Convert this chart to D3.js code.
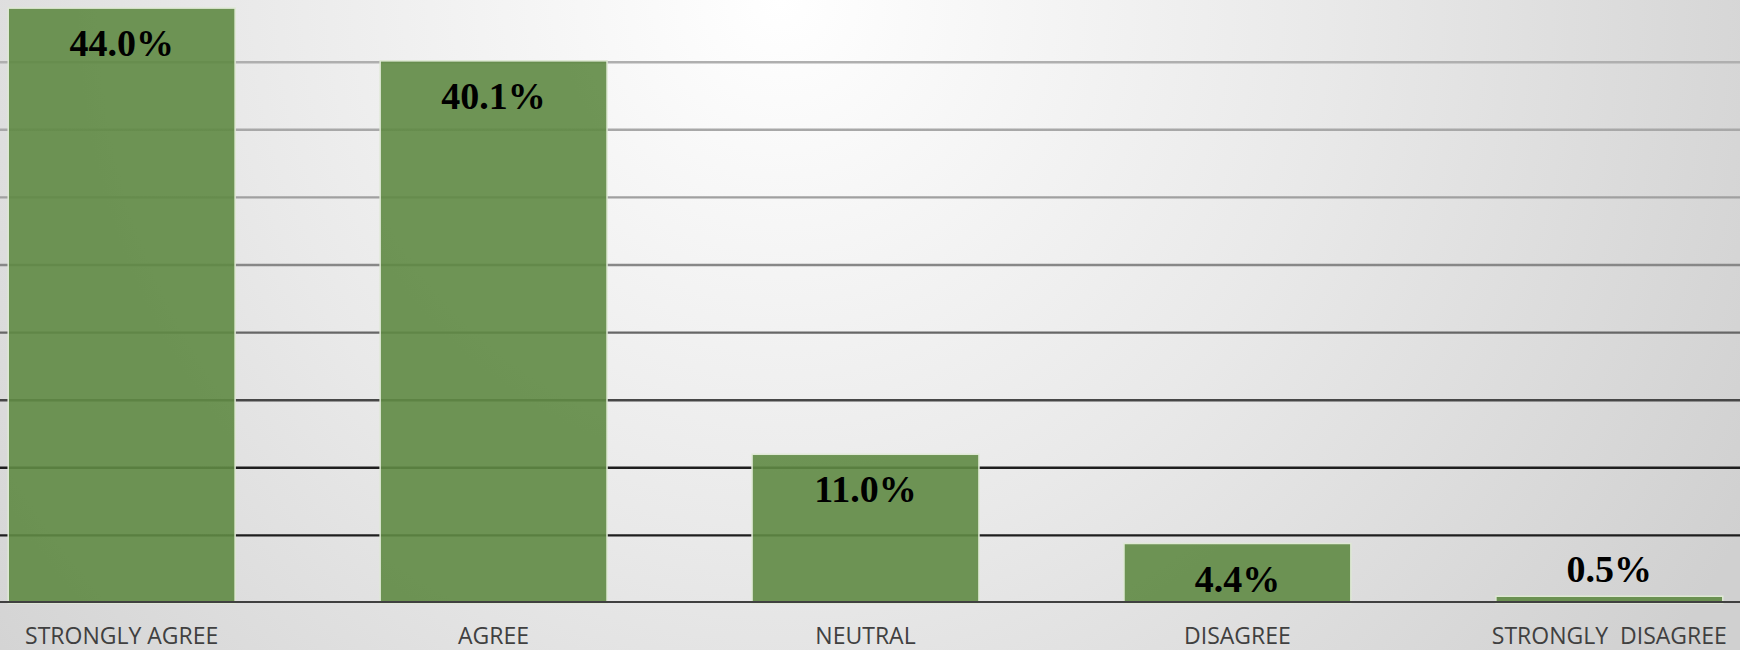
<!DOCTYPE html>
<html>
<head>
<meta charset="utf-8">
<script src="https://cdn.jsdelivr.net/npm/d3@7"></script>
<style>
  html, body { margin: 0; padding: 0; background: #e6e6e6; }
  svg { display: block; }
</style>
</head>
<body>
<svg id="chart" width="1740" height="650"></svg>
<script>
// Survey response shares (percent)
const categories = ["STRONGLY AGREE", "AGREE", "NEUTRAL", "DISAGREE", "STRONGLY  DISAGREE"];
const values = [44.0, 40.1, 11.0, 4.4, 0.5];
const gridTicks = [5, 10, 15, 20, 25, 30, 35, 40];

const width = 1740, height = 650;
const svg = d3.select("#chart");
const defs = svg.append("defs");

// Soft radial background, lightest near the top centre
const bg = defs.append("radialGradient")
  .attr("id", "bgGrad")
  .attr("gradientUnits", "userSpaceOnUse")
  .attr("cx", 780).attr("cy", 0).attr("r", 1100);
bg.append("stop").attr("offset", 0).attr("stop-color", "#ffffff");
bg.append("stop").attr("offset", 0.5).attr("stop-color", "#e9e9e9");
bg.append("stop").attr("offset", 1).attr("stop-color", "#d0d0d0");

// Gridlines darken towards the baseline
const gg = defs.append("linearGradient")
  .attr("id", "gridGrad")
  .attr("gradientUnits", "userSpaceOnUse")
  .attr("x1", 0).attr("y1", 0).attr("x2", 0).attr("y2", 600);
[[0, "#b6b6b6"], [0.33, "#a0a0a0"], [0.44, "#888888"], [0.55, "#686868"], [0.67, "#464646"], [0.78, "#1e1e1e"], [1, "#1e1e1e"]]
  .forEach(([o, c]) => gg.append("stop").attr("offset", o).attr("stop-color", c));

svg.append("rect").attr("width", width).attr("height", height).attr("fill", "url(#bgGrad)");

const x = d3.scaleBand()
  .domain(categories)
  .range([-64.3, 1795.3])
  .paddingInner(0.39)
  .paddingOuter(0.195);

const y = d3.scaleLinear()
  .domain([0, 45])
  .range([603, -5.4]);

// Horizontal gridlines
svg.append("g").selectAll("line")
  .data(gridTicks)
  .join("line")
  .attr("x1", 0).attr("x2", width)
  .attr("y1", d => y(d)).attr("y2", d => y(d))
  .attr("stroke", "url(#gridGrad)")
  .attr("stroke-width", 2.4);

// Bars
svg.append("g").selectAll("rect")
  .data(values)
  .join("rect")
  .attr("x", (d, i) => x(categories[i]))
  .attr("width", x.bandwidth())
  .attr("y", d => y(d))
  .attr("height", d => y(0) - y(d))
  .attr("fill", "#5f8a44")
  .attr("fill-opacity", 0.9)
  .attr("stroke", "#dfe9d5")
  .attr("stroke-width", 1.5);

// Baseline axis
svg.append("line")
  .attr("x1", 0).attr("x2", width)
  .attr("y1", y(0) - 1).attr("y2", y(0) - 1)
  .attr("stroke", "#404040")
  .attr("stroke-width", 2.2);

// Value labels: inside the top of tall bars, above short ones
const fmt = d3.format(".1f");
svg.append("g").selectAll("text")
  .data(values)
  .join("text")
  .attr("x", (d, i) => x(categories[i]) + x.bandwidth() / 2)
  .attr("y", d => (y(0) - y(d) > 40) ? y(d) + 48 : y(d) - 14)
  .attr("text-anchor", "middle")
  .attr("font-family", "'Liberation Serif', 'Times New Roman', serif")
  .attr("font-weight", "bold")
  .attr("font-size", 38)
  .attr("fill", "#000")
  .text(d => fmt(d) + "%");

// Category labels
svg.append("g").selectAll("text")
  .data(categories)
  .join("text")
  .attr("x", d => x(d) + x.bandwidth() / 2)
  .attr("y", 644)
  .attr("text-anchor", "middle")
  .attr("font-family", "'Open Sans', sans-serif")
  .attr("font-size", 23)
  .attr("fill", "#404040")
  .style("white-space", "pre")
  .text(d => d);
</script>
</body>
</html>
